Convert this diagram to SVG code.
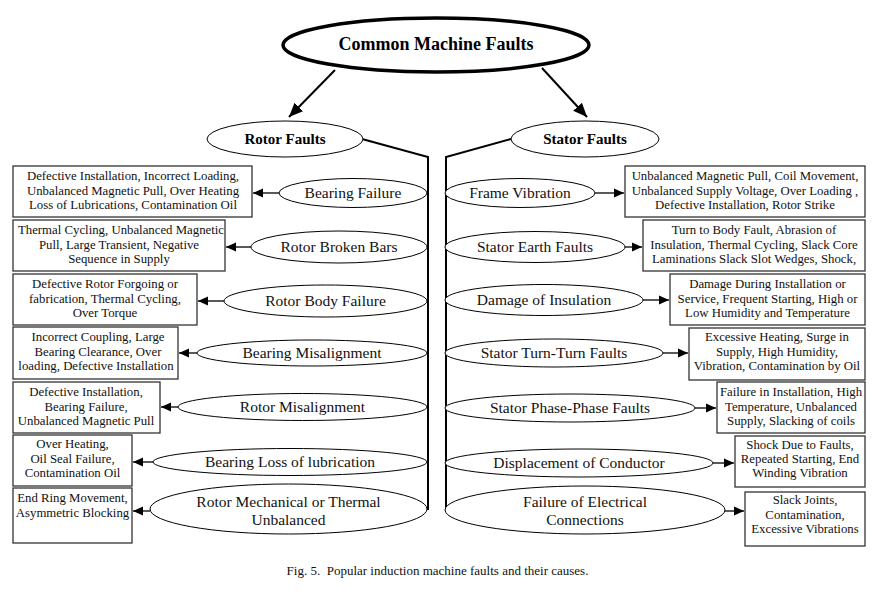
<svg xmlns="http://www.w3.org/2000/svg" width="891" height="591" viewBox="0 0 891 591">
<defs>
<marker id="ah" markerUnits="userSpaceOnUse" markerWidth="10" markerHeight="10" refX="10" refY="5" orient="auto"><path d="M0,0.5 L10,5 L0,9.5 z" fill="#000"/></marker>
<marker id="ahb" markerUnits="userSpaceOnUse" markerWidth="14" markerHeight="14" refX="14" refY="7" orient="auto"><path d="M0,1 L14,7 L0,13 z" fill="#000"/></marker>
<style>
.bx{fill:#fff;stroke:#333;stroke-width:1.3}
.el{fill:#fff;stroke:#000;stroke-width:1}
.bt{font-family:"Liberation Serif",serif;font-size:12.8px;fill:#111;text-anchor:middle}
.et{font-family:"Liberation Serif",serif;font-size:15.5px;fill:#111;text-anchor:middle}
.hd{font-family:"Liberation Serif",serif;font-weight:bold;text-anchor:middle;fill:#000}
.cn{stroke:#000;stroke-width:1.3;fill:none;marker-end:url(#ah)}
.tr{stroke:#000;stroke-width:2;fill:none}
</style>
</defs>
<rect width="891" height="591" fill="#fff"/>

<g id="connectors">
<line class="tr" x1="335" y1="70" x2="289" y2="117" style="marker-end:url(#ahb)"/>
<line class="tr" x1="542" y1="68" x2="587" y2="117" style="marker-end:url(#ahb)"/>
<polyline class="tr" points="362,139 428,157 428,510"/>
<polyline class="tr" points="511,139 446,157 446,512"/>
<line class="cn" x1="279" y1="193" x2="253" y2="193"/>
<line class="cn" x1="251" y1="247" x2="226" y2="247"/>
<line class="cn" x1="224" y1="301" x2="198" y2="301"/>
<line class="cn" x1="197" y1="353" x2="179" y2="353"/>
<line class="cn" x1="178" y1="407" x2="161" y2="407"/>
<line class="cn" x1="153" y1="462" x2="133" y2="462"/>
<line class="cn" x1="150" y1="511" x2="133" y2="511"/>
<line class="cn" x1="595" y1="193" x2="624" y2="193"/>
<line class="cn" x1="625" y1="247" x2="642" y2="247"/>
<line class="cn" x1="643" y1="300" x2="669" y2="300"/>
<line class="cn" x1="663" y1="353" x2="688" y2="353"/>
<line class="cn" x1="695" y1="408" x2="716" y2="408"/>
<line class="cn" x1="713" y1="463" x2="734" y2="463"/>
<line class="cn" x1="725" y1="511" x2="744" y2="511"/>
</g>

<g id="root">
<ellipse cx="436" cy="45" rx="153" ry="27" fill="#fff" stroke="#000" stroke-width="3.5"/>
<text class="hd" x="436" y="50" font-size="18">Common Machine Faults</text>
</g>
<g id="rotor-faults">
<ellipse class="el" cx="285" cy="139" rx="78" ry="18" stroke-width="1.5"/>
<text class="hd" x="285" y="144" font-size="15">Rotor Faults</text>
</g>
<g id="stator-faults">
<ellipse class="el" cx="585" cy="139" rx="74" ry="18" stroke-width="1.5"/>
<text class="hd" x="585" y="144" font-size="15">Stator Faults</text>
</g>

<!-- Left side -->
<g id="bearing-failure">
<ellipse class="el" cx="353" cy="193" rx="74" ry="14.5"/>
<text class="et" x="353" y="198">Bearing Failure</text>
</g>
<g id="bearing-failure-causes">
<rect class="bx" x="13" y="166" width="239" height="51"/>
<text class="bt" x="133" y="180">Defective Installation, Incorrect Loading,</text>
<text class="bt" x="133" y="194.5">Unbalanced Magnetic Pull, Over Heating</text>
<text class="bt" x="133" y="209">Loss of Lubrications, Contamination Oil</text>
</g>
<g id="rotor-broken-bars">
<ellipse class="el" cx="339" cy="247" rx="88" ry="16"/>
<text class="et" x="339" y="252">Rotor Broken Bars</text>
</g>
<g id="rotor-broken-bars-causes">
<rect class="bx" x="13" y="220" width="212" height="51"/>
<text class="bt" x="121" y="234">Thermal Cycling, Unbalanced Magnetic</text>
<text class="bt" x="119" y="248.5">Pull, Large Transient, Negative</text>
<text class="bt" x="119" y="263">Sequence in Supply</text>
</g>
<g id="rotor-body-failure">
<ellipse class="el" cx="325.5" cy="301" rx="101.5" ry="16"/>
<text class="et" x="325.5" y="306">Rotor Body Failure</text>
</g>
<g id="rotor-body-failure-causes">
<rect class="bx" x="13" y="274" width="184" height="51"/>
<text class="bt" x="105" y="288">Defective Rotor Forgoing or</text>
<text class="bt" x="105" y="302.5">fabrication, Thermal Cycling,</text>
<text class="bt" x="105" y="317">Over Torque</text>
</g>
<g id="bearing-misalignment">
<ellipse class="el" cx="312" cy="353" rx="115" ry="13"/>
<text class="et" x="312" y="358">Bearing Misalignment</text>
</g>
<g id="bearing-misalignment-causes">
<rect class="bx" x="13" y="327" width="165" height="52"/>
<text class="bt" x="98" y="341">Incorrect Coupling, Large</text>
<text class="bt" x="98" y="355.5">Bearing Clearance, Over</text>
<text class="bt" x="96" y="370">loading, Defective Installation</text>
</g>
<g id="rotor-misalignment">
<ellipse class="el" cx="302.5" cy="407" rx="124.5" ry="13.5"/>
<text class="et" x="302.5" y="412">Rotor Misalignment</text>
</g>
<g id="rotor-misalignment-causes">
<rect class="bx" x="13" y="382" width="147" height="51"/>
<text class="bt" x="86" y="396">Defective Installation,</text>
<text class="bt" x="86" y="410.5">Bearing Failure,</text>
<text class="bt" x="86" y="425">Unbalanced Magnetic Pull</text>
</g>
<g id="bearing-loss-of-lubrication">
<ellipse class="el" cx="290" cy="462" rx="137" ry="13.5"/>
<text class="et" x="290" y="467">Bearing Loss of lubrication</text>
</g>
<g id="bearing-loss-of-lubrication-causes">
<rect class="bx" x="13" y="435" width="119" height="51"/>
<text class="bt" x="72.5" y="448">Over Heating,</text>
<text class="bt" x="72.5" y="462.5">Oil Seal Failure,</text>
<text class="bt" x="72.5" y="477">Contamination Oil</text>
</g>
<g id="rotor-mechanical-or-thermal-unbalanced">
<ellipse class="el" cx="288.5" cy="509" rx="138.5" ry="25"/>
<text class="et" x="288.5" y="507">Rotor Mechanical or Thermal</text>
<text class="et" x="288.5" y="525">Unbalanced</text>
</g>
<g id="rotor-mechanical-or-thermal-unbalanced-causes">
<rect class="bx" x="13" y="488" width="119" height="55"/>
<text class="bt" x="72.5" y="502">End Ring Movement,</text>
<text class="bt" x="72.5" y="517">Asymmetric Blocking</text>
</g>

<!-- Right side -->
<g id="frame-vibration">
<ellipse class="el" cx="520" cy="193" rx="75" ry="14.5"/>
<text class="et" x="520" y="198">Frame Vibration</text>
</g>
<g id="frame-vibration-causes">
<rect class="bx" x="625" y="166" width="240" height="51"/>
<text class="bt" x="745" y="180">Unbalanced Magnetic Pull, Coil Movement,</text>
<text class="bt" x="745" y="194.5">Unbalanced Supply Voltage, Over Loading ,</text>
<text class="bt" x="745" y="209">Defective Installation, Rotor Strike</text>
</g>
<g id="stator-earth-faults">
<ellipse class="el" cx="535" cy="247" rx="90" ry="15.5"/>
<text class="et" x="535" y="252">Stator Earth Faults</text>
</g>
<g id="stator-earth-faults-causes">
<rect class="bx" x="643" y="220" width="222" height="51"/>
<text class="bt" x="754" y="234">Turn to Body Fault, Abrasion of</text>
<text class="bt" x="754" y="248.5">Insulation, Thermal Cycling, Slack Core</text>
<text class="bt" x="754" y="263">Laminations Slack Slot Wedges, Shock,</text>
</g>
<g id="damage-of-insulation">
<ellipse class="el" cx="544" cy="300" rx="99" ry="15.5"/>
<text class="et" x="544" y="305">Damage of Insulation</text>
</g>
<g id="damage-of-insulation-causes">
<rect class="bx" x="670" y="274" width="195" height="51"/>
<text class="bt" x="767.5" y="288">Damage During Installation or</text>
<text class="bt" x="767.5" y="302.5">Service, Frequent Starting, High or</text>
<text class="bt" x="767.5" y="317">Low Humidity and Temperature</text>
</g>
<g id="stator-turn-turn-faults">
<ellipse class="el" cx="554" cy="353" rx="109" ry="14"/>
<text class="et" x="554" y="358">Stator Turn-Turn Faults</text>
</g>
<g id="stator-turn-turn-faults-causes">
<rect class="bx" x="689" y="328" width="176" height="52"/>
<text class="bt" x="777" y="341">Excessive Heating, Surge in</text>
<text class="bt" x="777" y="355.5">Supply, High Humidity,</text>
<text class="bt" x="777" y="370">Vibration, Contamination by Oil</text>
</g>
<g id="stator-phase-phase-faults">
<ellipse class="el" cx="570" cy="408" rx="125" ry="14"/>
<text class="et" x="570" y="413">Stator Phase-Phase Faults</text>
</g>
<g id="stator-phase-phase-faults-causes">
<rect class="bx" x="717" y="382" width="148" height="51"/>
<text class="bt" x="791" y="396">Failure in Installation, High</text>
<text class="bt" x="791" y="410.5">Temperature, Unbalanced</text>
<text class="bt" x="791" y="425">Supply, Slacking of coils</text>
</g>
<g id="displacement-of-conductor">
<ellipse class="el" cx="579" cy="463" rx="134" ry="14"/>
<text class="et" x="579" y="468">Displacement of Conductor</text>
</g>
<g id="displacement-of-conductor-causes">
<rect class="bx" x="735" y="436" width="130" height="51"/>
<text class="bt" x="800" y="449">Shock Due to Faults,</text>
<text class="bt" x="800" y="463">Repeated Starting, End</text>
<text class="bt" x="800" y="477">Winding Vibration</text>
</g>
<g id="failure-of-electrical-connections">
<ellipse class="el" cx="585" cy="510" rx="140" ry="24"/>
<text class="et" x="585" y="507">Failure of Electrical</text>
<text class="et" x="585" y="525">Connections</text>
</g>
<g id="failure-of-electrical-connections-causes">
<rect class="bx" x="745" y="492" width="120" height="54"/>
<text class="bt" x="805" y="504">Slack Joints,</text>
<text class="bt" x="805" y="519">Contamination,</text>
<text class="bt" x="805" y="533">Excessive Vibrations</text>
</g>

<text x="437.5" y="575" font-family="Liberation Serif,serif" font-size="13" fill="#111" text-anchor="middle" xml:space="preserve">Fig. 5.  Popular induction machine faults and their causes.</text>
</svg>
